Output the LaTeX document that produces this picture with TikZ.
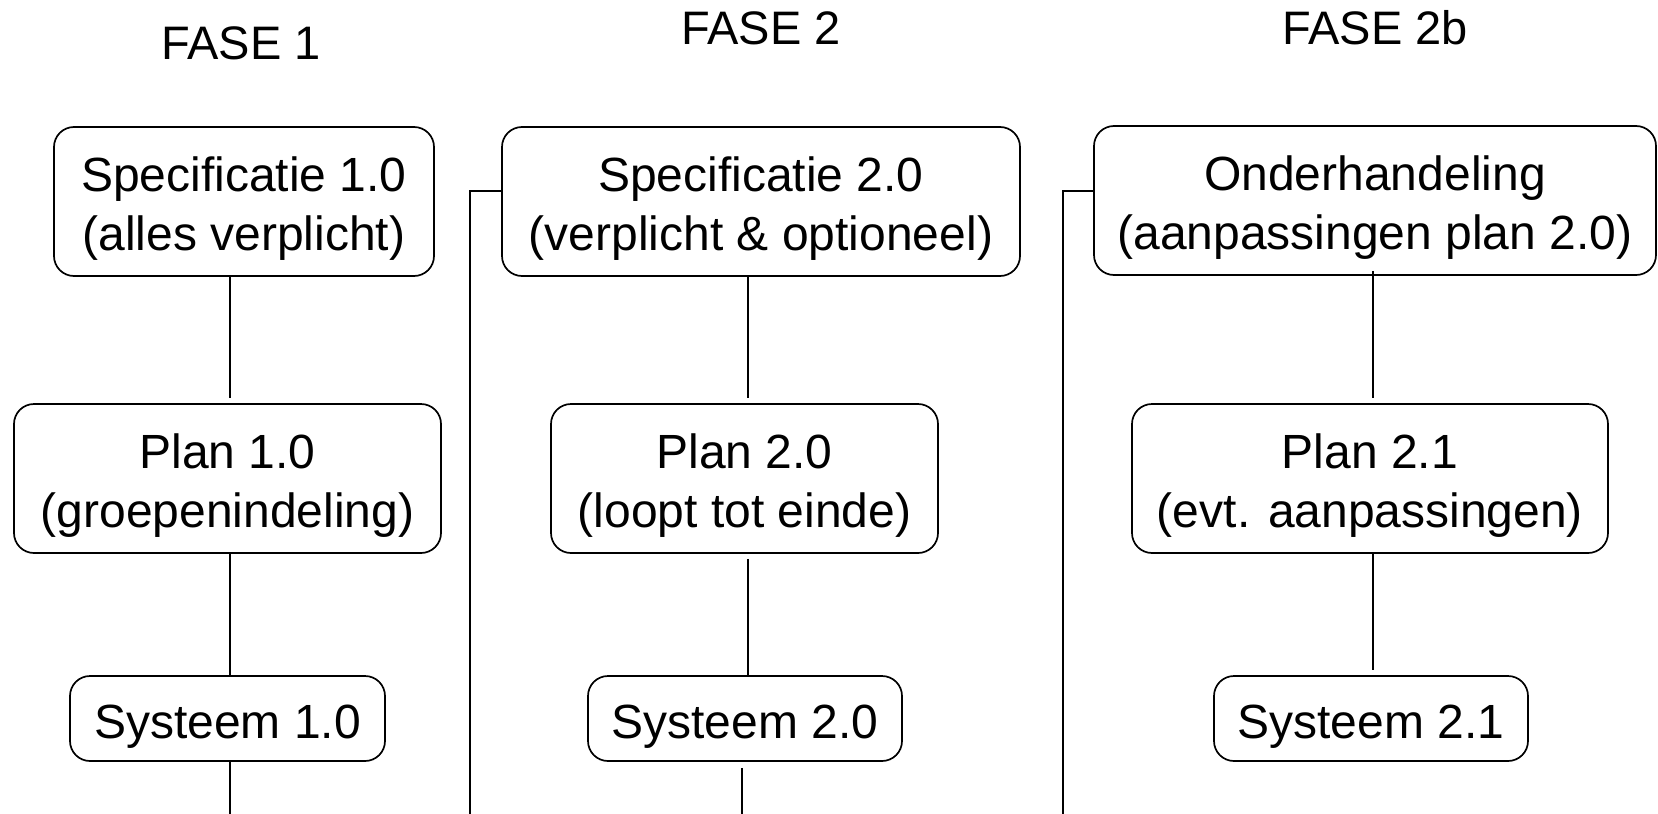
\documentclass[tikz,border=0pt]{standalone}
\usepackage{fontspec}
\setmainfont{Liberation Sans}
\newcommand{\boxstrut}{\rule{0pt}{49pt}}
\begin{document}
\begin{tikzpicture}[x=1pt,y=-1pt,
  box/.style={draw,line width=1.7pt,rounded corners=20pt,align=center,inner sep=0pt,
    font=\fontsize{48}{58.5}\selectfont},
  conn/.style={line width=1.3pt},
  phase/.style={font=\fontsize{47}{54}\selectfont,inner sep=0pt}]
\useasboundingbox (0,0) rectangle (1658,814);
% phase titles
\node[phase] (f1) at (241,43) {FASE 1};
\node[phase] (f2) at (761,28) {FASE 2};
\node[phase] (f3) at (1375,28) {FASE 2b};
% column 1
\node[box,minimum width=380pt,minimum height=149pt] (spec1) at (244,201.5) {\boxstrut Specificatie 1.0\\(alles verplicht)};
\node[box,minimum width=427pt,minimum height=149pt] (plan1) at (227.5,478.5) {\boxstrut Plan 1.0\\(groepenindeling)};
\node[box,minimum width=315pt,minimum height=85pt] (sys1) at (227.5,718.5) {\boxstrut Systeem 1.0};
% column 2
\node[box,minimum width=518pt,minimum height=149pt] (spec2) at (761,201.5) {\boxstrut Specificatie 2.0\\(verplicht \& optioneel)};
\node[box,minimum width=387pt,minimum height=149pt] (plan2) at (744.5,478.5) {\boxstrut Plan 2.0\\(loopt tot einde)};
\node[box,minimum width=314pt,minimum height=85pt] (sys2) at (745,718.5) {\boxstrut Systeem 2.0};
% column 3
\node[box,minimum width=562pt,minimum height=149pt] (ond) at (1375,200.5) {\boxstrut Onderhandeling\\(aanpassingen plan 2.0)};
\node[box,minimum width=476pt,minimum height=149pt] (plan3) at (1370,478.5) {\boxstrut Plan 2.1\\(evt. aanpassingen)};
\node[box,minimum width=314pt,minimum height=85pt] (sys3) at (1371,718.5) {\boxstrut Systeem 2.1};
% helper coordinates
\coordinate (x1) at (230,0);
\coordinate (x2) at (748,0);
\coordinate (x2b) at (742,0);
\coordinate (x3) at (1373,0);
\coordinate (e1) at (230,814);
\coordinate (e2) at (742,814);
\coordinate (b2) at (470,814);
\coordinate (b3) at (1063,814);
% connectors column 1
\draw[conn,shorten >=5pt] (spec1.south -| x1) -- (plan1.north -| x1);
\draw[conn] (plan1.south -| x1) -- (sys1.north -| x1);
\draw[conn] (sys1.south -| x1) -- (e1);
% connectors column 2
\draw[conn,shorten >=5pt] (spec2.south -| x2) -- (plan2.north -| x2);
\draw[conn,shorten <=5pt] (plan2.south -| x2) -- (sys2.north -| x2);
\draw[conn,shorten <=6pt] (sys2.south -| x2b) -- (e2);
% connectors column 3
\draw[conn,shorten <=-5pt,shorten >=5pt] (ond.south -| x3) -- (plan3.north -| x3);
\draw[conn,shorten >=5pt] (plan3.south -| x3) -- (sys3.north -| x3);
% brackets
\draw[conn] ([yshift=10.5pt]spec2.west) -| (b2);
\draw[conn] ([yshift=9.5pt]ond.west) -| (b3);
\end{tikzpicture}
\end{document}
